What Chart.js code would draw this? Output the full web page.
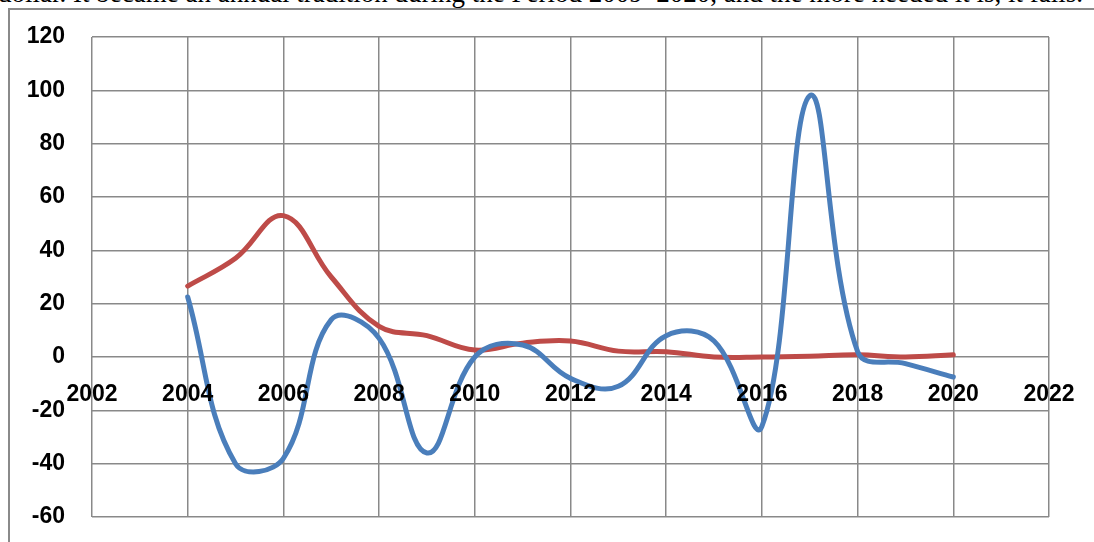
<!DOCTYPE html>
<html>
<head>
<meta charset="utf-8">
<script src="https://cdn.jsdelivr.net/npm/chart.js@4"></script>
<style>
  html, body { margin: 0; padding: 0; background: #fff; overflow: hidden; }
  body { width: 1094px; height: 542px; position: relative; }
  #caption {
    position: absolute; left: -2px; top: -20px; white-space: nowrap;
    font: 27px/27px "Liberation Serif", "Times New Roman", serif; color: #000;
  }
  #frame {
    position: absolute; left: 8px; top: 8px; width: 1200px; height: 600px;
    border: 2px solid #8a8a8a; box-sizing: border-box;
  }
  #wrap { position: absolute; left: 0; top: 0; width: 1094px; height: 542px; }
</style>
</head>
<body>
<div id="caption">dollar. It became an annual tradition during the Period 2009–2020, and the more needed it is, it falls.</div>
<div id="frame"></div>
<div id="wrap"><canvas id="chart"></canvas></div>
<script>
const years = [2004, 2005, 2006, 2007, 2008, 2009, 2010, 2011, 2012, 2013, 2014, 2015, 2016, 2017, 2018, 2019, 2020];
const blueValues = [22.5, -40, -38, 14, 7, -36, 0, 4.5, -8, -11, 8, 6, -26, 98, 2, -2.5, -7.5];
const redValues = [26.6, 37, 53, 30, 11.5, 8, 2.6, 5.2, 6, 2.2, 2, 0, 0, 0.3, 0.8, 0, 0.8];
const xTicks = [2002, 2004, 2006, 2008, 2010, 2012, 2014, 2016, 2018, 2020, 2022];
const yTicks = [-60, -40, -20, 0, 20, 40, 60, 80, 100, 120];

const toPoints = vals => years.map((y, i) => ({ x: y, y: vals[i] }));
const tickFont = { family: "'Liberation Sans', Arial, sans-serif", size: 23, weight: "bold" };
const gridColor = "#898989";

new Chart(document.getElementById("chart"), {
  type: "line",
  data: {
    datasets: [
      { data: toPoints(blueValues), borderColor: "#4a7ebb", borderWidth: 5, tension: 0.4,
        pointRadius: 0, borderCapStyle: "round", borderJoinStyle: "round" },
      { data: toPoints(redValues), borderColor: "#be4b48", borderWidth: 5, tension: 0.4,
        pointRadius: 0, borderCapStyle: "round", borderJoinStyle: "round" }
    ]
  },
  options: {
    responsive: true,
    maintainAspectRatio: false,
    animation: false,
    layout: { padding: { left: 0, top: 37, right: 45, bottom: 25 } },
    plugins: { legend: { display: false }, tooltip: { enabled: false } },
    scales: {
      x: {
        type: "linear",
        position: { y: 0 },
        min: 2002, max: 2022,
        afterBuildTicks: s => { s.ticks = xTicks.map(v => ({ value: v })); },
        afterFit: s => { s.height = 0; },
        grid: { color: gridColor, lineWidth: 1.5, drawTicks: true, tickLength: 24, tickColor: "transparent" },
        border: { display: false },
        ticks: { font: tickFont, color: "#000", padding: 0, maxRotation: 0, autoSkip: false,
                 z: 1, callback: v => String(v) }
      },
      y: {
        type: "linear",
        min: -60, max: 120,
        afterBuildTicks: s => { s.ticks = yTicks.map(v => ({ value: v })); },
        afterFit: s => { s.width = 92; },
        grid: { color: gridColor, lineWidth: 1.5, drawTicks: true, tickLength: 27, tickColor: "transparent" },
        border: { display: false },
        ticks: { font: tickFont, color: "#000", padding: 0, callback: v => String(v) }
      }
    }
  }
});
</script>
</body>
</html>
